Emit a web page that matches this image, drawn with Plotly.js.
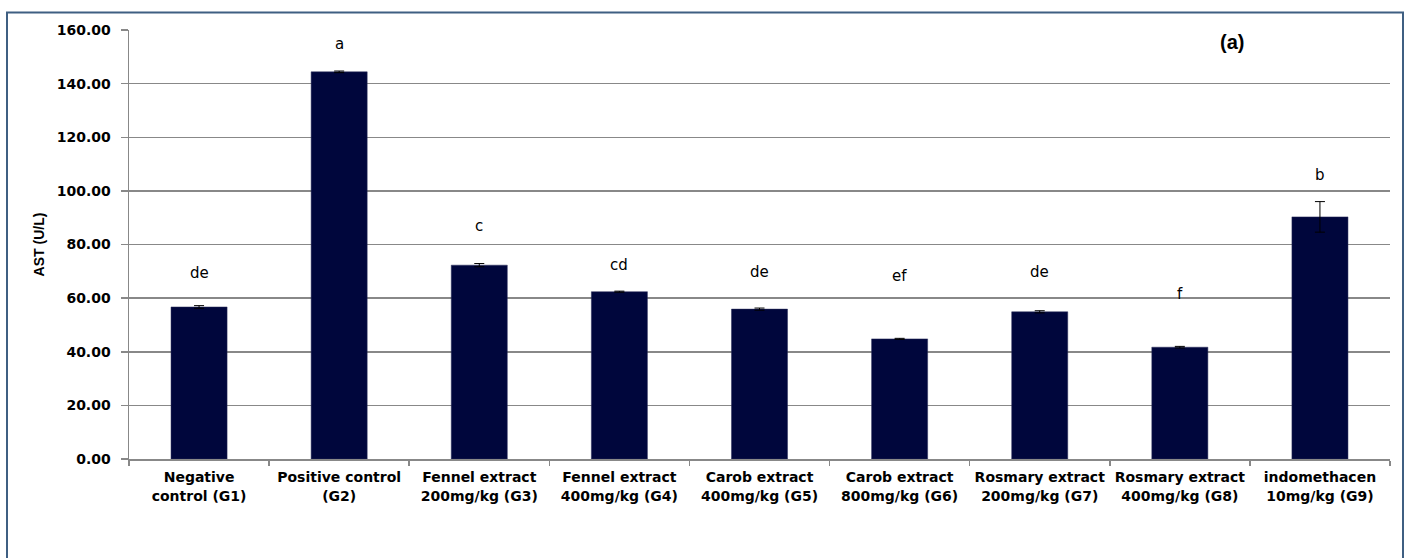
<!DOCTYPE html>
<html>
<head>
<meta charset="utf-8">
<script src="https://cdn.plot.ly/plotly-3.0.1.min.js"></script>
<style>
html,body{margin:0;padding:0;background:#fff;}
#chart{width:1407px;height:558px;}
</style>
</head>
<body>
<div id="chart"></div>
<script>
const categories = [
  "Negative<br>control (G1)",
  "Positive control<br>(G2)",
  "Fennel extract<br>200mg/kg (G3)",
  "Fennel extract<br>400mg/kg (G4)",
  "Carob extract<br>400mg/kg (G5)",
  "Carob extract<br>800mg/kg (G6)",
  "Rosmary extract<br>200mg/kg (G7)",
  "Rosmary extract<br>400mg/kg (G8)",
  "indomethacen<br>10mg/kg (G9)"
];
const astValues = [56.7, 144.4, 72.3, 62.4, 55.9, 44.8, 54.9, 41.7, 90.3];
const astErrors = [0.5, 0.3, 0.6, 0.2, 0.4, 0.2, 0.4, 0.3, 5.7];
const letters = ["de", "a", "c", "cd", "de", "ef", "de", "f", "b"];
const letterY = [69.5, 154.7, 87.0, 72.3, 69.7, 68.3, 69.7, 61.5, 106.0];
const yTicks = [0, 20, 40, 60, 80, 100, 120, 140, 160];

const trace = {
  type: "bar",
  x: categories,
  y: astValues,
  width: 0.4,
  marker: {color: "#00063c", line: {color: "#2a2f5a", width: 0.5}},
  error_y: {type: "data", array: astErrors, visible: true, color: "#000", thickness: 1, width: 5},
  hoverinfo: "x+y"
};

const annotations = letters.map((t, i) => ({
  x: categories[i], y: letterY[i], xref: "x", yref: "y",
  text: t, showarrow: false, xanchor: "center", yanchor: "middle",
  font: {family: "DejaVu Sans, Verdana, sans-serif", size: 15, color: "#000"}
}));
annotations.push({
  xref: "paper", yref: "paper", x: 0.8745, y: 0.972,
  xanchor: "center", yanchor: "middle",
  text: "<b>(a)</b>", showarrow: false,
  font: {family: "Liberation Sans, Arial, sans-serif", size: 20, color: "#000"}
});

const layout = {
  width: 1407, height: 558,
  margin: {l: 129, r: 17, t: 30, b: 99, pad: 0},
  paper_bgcolor: "#fff", plot_bgcolor: "#fff",
  showlegend: false,
  xaxis: {
    type: "category",
    showline: true, linecolor: "#888", linewidth: 1.5,
    ticks: "outside", tickson: "boundaries", ticklen: 5, tickcolor: "#888", tickwidth: 1.5,
    tickfont: {family: "DejaVu Sans, Verdana, sans-serif", size: 14, color: "#000", weight: "bold"},
    ticklabelstandoff: 5,
    showgrid: false, fixedrange: true,
    tickangle: 0
  },
  yaxis: {
    range: [0, 160],
    tickvals: yTicks,
    ticktext: yTicks.map(v => "<b>" + v.toFixed(2) + "</b>"),
    showline: true, linecolor: "#888", linewidth: 1.5,
    ticks: "outside", ticklen: 7, tickcolor: "#888", tickwidth: 1.5,
    ticklabelstandoff: 7,
    showgrid: true, gridcolor: "#888", gridwidth: 1.5,
    zeroline: false,
    tickfont: {family: "DejaVu Sans, Verdana, sans-serif", size: 14, color: "#000"},
    title: {text: "<b>AST (U/L)</b>", standoff: 9,
      font: {family: "Liberation Sans, Arial, sans-serif", size: 14, color: "#000"}},
    fixedrange: true
  },
  annotations: annotations,
  shapes: [{
    type: "rect", xref: "paper", yref: "paper",
    x0: (7 - 129) / 1261, x1: (1403 - 129) / 1261,
    y0: (459 - 600) / 429, y1: (459 - 12.5) / 429,
    line: {color: "#3f5f82", width: 2}, fillcolor: "rgba(0,0,0,0)", layer: "below"
  }]
};

Plotly.newPlot("chart", [trace], layout, {displayModeBar: false, staticPlot: true});
</script>
</body>
</html>
